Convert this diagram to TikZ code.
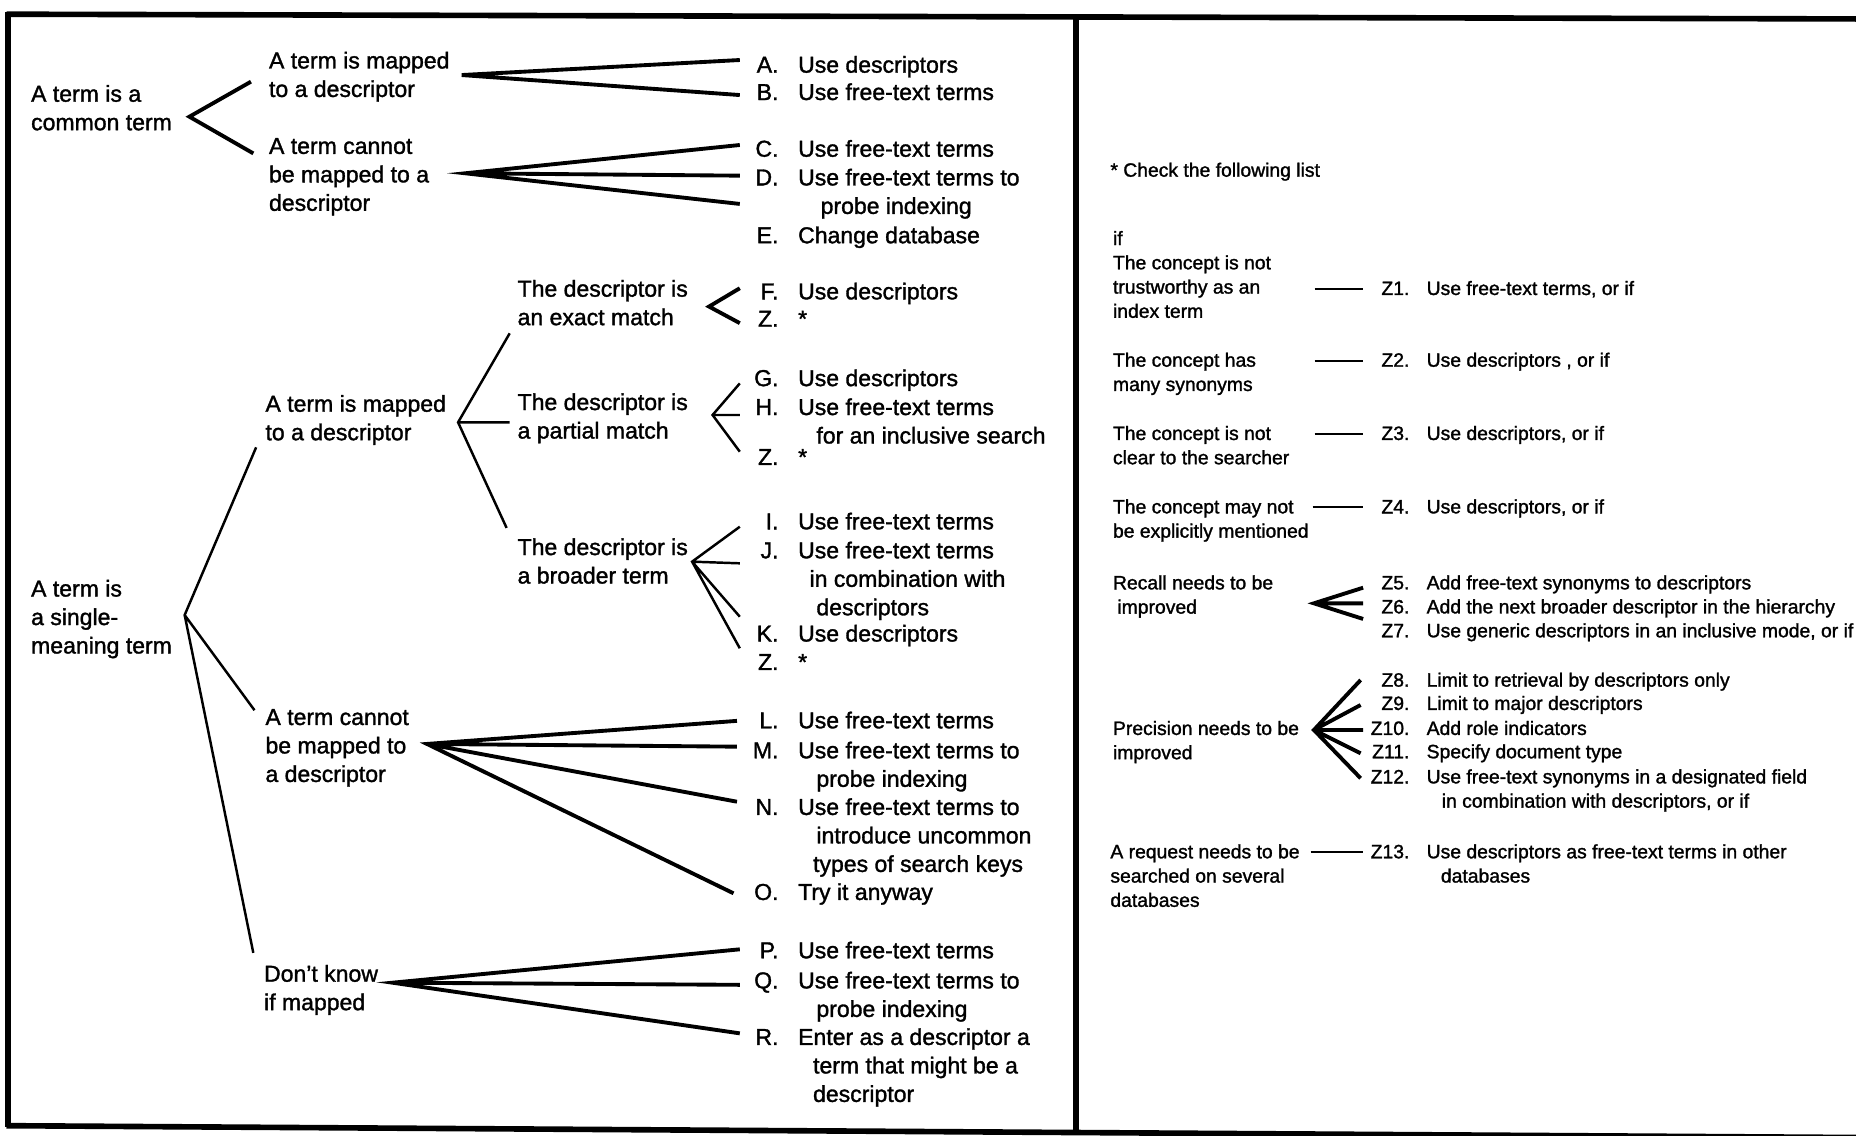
\documentclass[tikz,border=0pt]{standalone}
\usepackage{fontspec}
\setmainfont{Liberation Sans}[FakeBold=1.4]
\usepackage{tikz}
\usetikzlibrary{calc}

\begin{document}
\begin{tikzpicture}[x=0.023673cm,y=-0.023673cm,
    lt/.style={anchor=base west,inner sep=0pt,align=left,font=\fontsize{13.1}{16.2}\selectfont},
    let/.style={lt,anchor=base east},
    rt/.style={anchor=base west,inner sep=0pt,align=left,font=\fontsize{11}{13.8}\selectfont},
    zlab/.style={rt,anchor=base east},
    frame/.style={line width=3.2pt},
    fork/.style={line width=2.2pt},
    stem/.style={line width=1.4pt},
    rline/.style={line width=1.2pt}]
      \useasboundingbox (0,0) rectangle (1568,959);
      % frame
      \draw[frame] (5.5,12) -- (1568,16);
      \draw[frame] (7,10.5) -- (7,952);
      \draw[frame] (5.5,951) -- (1568,961);
      \draw[frame] (909,13.5) -- (909,956);
      % left panel: conditions (base = last line)
      \node[lt] (nCommon) at (26,110) {A term is a\\common term};
      \node[lt] (nMapA) at (227,81.9) {A term is mapped\\to a descriptor};
      \node[lt] (nNotA) at (227,178.1) {A term cannot\\be mapped to a\\descriptor};
      \node[lt] (nSingle) at (26,552.1) {A term is\\a single-\\meaning term};
      \node[lt] (nMapB) at (224,371.9) {A term is mapped\\to a descriptor};
      \node[lt] (nExact) at (437,274.7) {The descriptor is\\an exact match};
      \node[lt] (nPartial) at (437,370.5) {The descriptor is\\a partial match};
      \node[lt] (nBroad) at (437,493) {The descriptor is\\a broader term};
      \node[lt] (nNotB) at (224,660.6) {A term cannot\\be mapped to\\a descriptor};
      \node[lt] (nDunno) at (222.8,853.4) {Don't know\\if mapped};
      % left panel: actions
      \node[let] (lA) at (658,61.4) {A.};
      \node[lt] (tA) at (674,61.4) {Use descriptors};
      \node[let] (lB) at (658,84.5) {B.};
      \node[lt] (tB) at (674,84.5) {Use free-text terms};
      \node[let] (lC) at (658,132.4) {C.};
      \node[lt] (tC) at (674,132.4) {Use free-text terms};
      \node[let] (lD) at (658,156.6) {D.};
      \node[lt] (tD) at (674,180.7) {Use free-text terms to\\\hspace*{12.8pt}probe indexing};
      \node[let] (lE) at (658,205.5) {E.};
      \node[lt] (tE) at (674,205.5) {Change database};
      \node[let] (lF) at (658,252.9) {F.};
      \node[lt] (tF) at (674,252.9) {Use descriptors};
      \node[let] (lZa) at (658,276) {Z.};
      \node[lt] (tZa) at (674,276) {*};
      \node[let] (lG) at (658,326.2) {G.};
      \node[lt] (tG) at (674,326.2) {Use descriptors};
      \node[let] (lH) at (658,350.6) {H.};
      \node[lt] (tH) at (674,374.7) {Use free-text terms\\\hspace*{10.4pt}for an inclusive search};
      \node[let] (lZb) at (658,392.8) {Z.};
      \node[lt] (tZb) at (674,392.8) {*};
      \node[let] (lI) at (658,447.2) {I.};
      \node[lt] (tI) at (674,447.2) {Use free-text terms};
      \node[let] (lJ) at (658,471.7) {J.};
      \node[lt] (tJ) at (674,519.8) {Use free-text terms\\\hspace*{6.5pt}in combination with\\\hspace*{10.4pt}descriptors};
      \node[let] (lK) at (658,542) {K.};
      \node[lt] (tK) at (674,542) {Use descriptors};
      \node[let] (lZc) at (658,566) {Z.};
      \node[lt] (tZc) at (674,566) {*};
      \node[let] (lL) at (658,615.3) {L.};
      \node[lt] (tL) at (674,615.3) {Use free-text terms};
      \node[let] (lM) at (658,640.6) {M.};
      \node[lt] (tM) at (674,664.7) {Use free-text terms to\\\hspace*{10.4pt}probe indexing};
      \node[let] (lN) at (658,688.5) {N.};
      \node[lt] (tN) at (674,736.6) {Use free-text terms to\\\hspace*{10.4pt}introduce uncommon\\\hspace*{8.5pt}types of search keys};
      \node[let] (lO) at (658,760.3) {O.};
      \node[lt] (tO) at (674,760.3) {Try it anyway};
      \node[let] (lP) at (658,809.6) {P.};
      \node[lt] (tP) at (674,809.6) {Use free-text terms};
      \node[let] (lQ) at (658,835) {Q.};
      \node[lt] (tQ) at (674,859.1) {Use free-text terms to\\\hspace*{10.4pt}probe indexing};
      \node[let] (lR) at (658,882.8) {R.};
      \node[lt] (tR) at (674,930.9) {Enter as a descriptor a\\\hspace*{8.5pt}term that might be a\\\hspace*{8.5pt}descriptor};
      % left panel: forks
      \coordinate (fCommon) at (160,98.6);
      \coordinate (eMapA) at (212,69);
      \coordinate (eNotA) at (214,129.6);
      \coordinate (fAB) at (390,63.4);
      \coordinate (eA) at (625,50.7);
      \coordinate (eB) at (625,80.3);
      \coordinate (fCE) at (393,146.4);
      \coordinate (eC) at (625,122.5);
      \coordinate (eD) at (625,148.4);
      \coordinate (eE) at (625,172.3);
      \coordinate (fSingle) at (156,519.6);
      \coordinate (eMapB) at (216.4,377.9);
      \coordinate (eNotB) at (215,600);
      \coordinate (eDunno) at (214,805);
      \coordinate (fMapB) at (387,356.8);
      \coordinate (eExact) at (430.6,281.6);
      \coordinate (ePartial) at (430.6,356.8);
      \coordinate (eBroad) at (428,446);
      \coordinate (fExact) at (599,259);
      \coordinate (eF) at (625,243.5);
      \coordinate (eZa) at (625,273);
      \coordinate (fPartial) at (602,350.6);
      \coordinate (eG) at (625,323.9);
      \coordinate (eH) at (625,350.6);
      \coordinate (eZb) at (625,381.6);
      \coordinate (fBroad) at (584.7,474.5);
      \coordinate (eI) at (625,445);
      \coordinate (eJ) at (625,475.9);
      \coordinate (eK) at (625,521);
      \coordinate (eZc) at (625,547.7);
      \coordinate (fNotB) at (360.7,628.5);
      \coordinate (eL) at (622.6,609);
      \coordinate (eM) at (622.6,630.8);
      \coordinate (eN) at (622.6,677.3);
      \coordinate (eO) at (619.7,754.7);
      \coordinate (fDunno) at (331.6,830.2);
      \coordinate (eP) at (625,802);
      \coordinate (eQ) at (625,832);
      \coordinate (eR) at (625,873);
      \draw[fork] (eMapA) -- (fCommon) -- (eNotA);
      \draw[fork] (eA) -- (fAB) -- (eB);
      \draw[fork] (eC) -- (fCE) -- (eE) (fCE) -- (eD);
      \draw[stem] (eMapB) -- (fSingle) -- (eDunno) (fSingle) -- (eNotB);
      \draw[stem] (eExact) -- (fMapB) -- (eBroad) (fMapB) -- (ePartial);
      \draw[fork] (eF) -- (fExact) -- (eZa);
      \draw[stem] (eG) -- (fPartial) -- (eZb) (fPartial) -- (eH);
      \draw[stem] (eI) -- (fBroad) -- (eZc) (fBroad) -- (eJ) (fBroad) -- (eK);
      \draw[fork] (eL) -- (fNotB) -- (eO) (fNotB) -- (eM) (fNotB) -- (eN);
      \draw[fork] (eP) -- (fDunno) -- (eR) (fDunno) -- (eQ);
      % right panel
      \node[rt] (nCheck) at (937.8,149.3) {* Check the following list};
      \node[rt] (nTrust) at (940,268.5) {if\\The concept is not\\trustworthy as an\\index term};
      \node[rt] (nSyn) at (940,330.3) {The concept has\\many synonyms};
      \node[rt] (nClear) at (940,392.2) {The concept is not\\clear to the searcher};
      \node[rt] (nExpl) at (940,454.2) {The concept may not\\be explicitly mentioned};
      \node[rt] (nRecall) at (940,518.4) {Recall needs to be\\\hspace*{2.5pt}improved};
      \node[rt] (nPrec) at (940,641.4) {Precision needs to be\\improved};
      \node[rt] (nReq) at (937.8,766.1) {A request needs to be\\searched on several\\databases};
      \node[zlab] (z1) at (1191,249.2) {Z1.};
      \node[rt] (w1) at (1205,249.2) {Use free-text terms, or if};
      \node[zlab] (z2) at (1191,309.8) {Z2.};
      \node[rt] (w2) at (1205,309.8) {Use descriptors , or if};
      \node[zlab] (z3) at (1191,371.7) {Z3.};
      \node[rt] (w3) at (1205,371.7) {Use descriptors, or if};
      \node[zlab] (z4) at (1191,433.7) {Z4.};
      \node[rt] (w4) at (1205,433.7) {Use descriptors, or if};
      \node[zlab] (z5) at (1191,497.9) {Z5.};
      \node[rt] (w5) at (1205,497.9) {Add free-text synonyms to descriptors};
      \node[zlab] (z6) at (1191,518.2) {Z6.};
      \node[rt] (w6) at (1205,518.2) {Add the next broader descriptor in the hierarchy};
      \node[zlab] (z7) at (1191,538.4) {Z7.};
      \node[rt] (w7) at (1205,538.4) {Use generic descriptors in an inclusive mode, or if};
      \node[zlab] (z8) at (1191,580.1) {Z8.};
      \node[rt] (w8) at (1205,580.1) {Limit to retrieval by descriptors only};
      \node[zlab] (z9) at (1191,599.8) {Z9.};
      \node[rt] (w9) at (1205,599.8) {Limit to major descriptors};
      \node[zlab] (z10) at (1191,620.9) {Z10.};
      \node[rt] (w10) at (1205,620.9) {Add role indicators};
      \node[zlab] (z11) at (1191,640.6) {Z11.};
      \node[rt] (w11) at (1205,640.6) {Specify document type};
      \node[zlab] (z12) at (1191,661.8) {Z12.};
      \node[rt] (w12) at (1205,682.3) {Use free-text synonyms in a designated field\\\hspace*{8.6pt}in combination with descriptors, or if};
      \node[zlab] (z13) at (1191,725.1) {Z13.};
      \node[rt] (w13) at (1205,745.6) {Use descriptors as free-text terms in other\\\hspace*{8.1pt}databases};
      % right panel: links
      \coordinate (sTrust) at (1110.6,244.4);
      \coordinate (eTrust) at (1151.6,244.4);
      \coordinate (sSyn) at (1110.6,304.7);
      \coordinate (eSyn) at (1151.6,304.7);
      \coordinate (sClear) at (1110.6,366.7);
      \coordinate (eClear) at (1151.6,366.7);
      \coordinate (sExpl) at (1109,428);
      \coordinate (eExpl) at (1151.6,428);
      \coordinate (fRecall) at (1110,509.7);
      \coordinate (e5) at (1151.6,496.5);
      \coordinate (e6) at (1151.6,509.7);
      \coordinate (e7) at (1151.6,522.9);
      \coordinate (fPrec) at (1110,616.7);
      \coordinate (e8) at (1149.5,574.5);
      \coordinate (e9) at (1149.5,595.6);
      \coordinate (e10) at (1151.6,616.7);
      \coordinate (e11) at (1149.5,636.4);
      \coordinate (e12) at (1149.5,657.5);
      \coordinate (sReq) at (1107.2,719.5);
      \coordinate (eReq) at (1151.6,719.5);
      \draw[rline] (sTrust) -- (eTrust);
      \draw[rline] (sSyn) -- (eSyn);
      \draw[rline] (sClear) -- (eClear);
      \draw[rline] (sExpl) -- (eExpl);
      \draw[fork] (e5) -- (fRecall) -- (e7) (fRecall) -- (e6);
      \draw[fork] (e8) -- (fPrec) -- (e12) (fPrec) -- (e9) (fPrec) -- (e10) (fPrec) -- (e11);
      \draw[rline] (sReq) -- (eReq);
\end{tikzpicture}
\end{document}
